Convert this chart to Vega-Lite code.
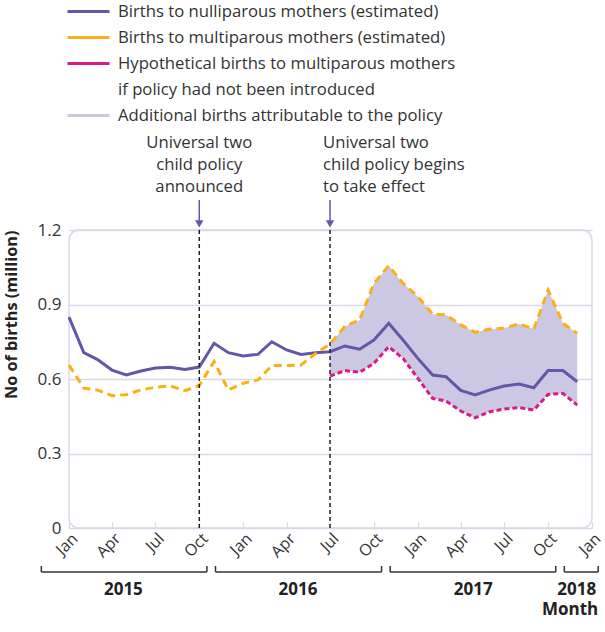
{
  "$schema": "https://vega.github.io/schema/vega-lite/v6.json",
  "width": 523,
  "height": 298,
  "padding": {"left": 3, "top": 0, "right": 0, "bottom": 5},
  "config": {
    "font": "Open Sans",
    "view": {"stroke": "#d9d8e8", "strokeWidth": 1.5, "cornerRadius": 10},
    "axis": {"labelColor": "#333333", "titleColor": "#222222"}
  },
  "datasets": {
    "main": [
      {"date": "2015-01-01", "nulli": 0.849, "multi": 0.656, "hypo": null},
      {"date": "2015-02-01", "nulli": 0.706, "multi": 0.563, "hypo": null},
      {"date": "2015-03-01", "nulli": 0.679, "multi": 0.556, "hypo": null},
      {"date": "2015-04-01", "nulli": 0.636, "multi": 0.533, "hypo": null},
      {"date": "2015-05-01", "nulli": 0.616, "multi": 0.537, "hypo": null},
      {"date": "2015-06-01", "nulli": 0.632, "multi": 0.556, "hypo": null},
      {"date": "2015-07-01", "nulli": 0.644, "multi": 0.567, "hypo": null},
      {"date": "2015-08-01", "nulli": 0.647, "multi": 0.572, "hypo": null},
      {"date": "2015-09-01", "nulli": 0.638, "multi": 0.553, "hypo": null},
      {"date": "2015-10-01", "nulli": 0.648, "multi": 0.574, "hypo": null},
      {"date": "2015-11-01", "nulli": 0.744, "multi": 0.670, "hypo": null},
      {"date": "2015-12-01", "nulli": 0.706, "multi": 0.556, "hypo": null},
      {"date": "2016-01-01", "nulli": 0.693, "multi": 0.583, "hypo": null},
      {"date": "2016-02-01", "nulli": 0.699, "multi": 0.596, "hypo": null},
      {"date": "2016-03-01", "nulli": 0.750, "multi": 0.654, "hypo": null},
      {"date": "2016-04-01", "nulli": 0.717, "multi": 0.654, "hypo": null},
      {"date": "2016-05-01", "nulli": 0.699, "multi": 0.656, "hypo": null},
      {"date": "2016-06-01", "nulli": 0.706, "multi": 0.703, "hypo": null},
      {"date": "2016-07-01", "nulli": 0.710, "multi": 0.741, "hypo": 0.612},
      {"date": "2016-08-01", "nulli": 0.733, "multi": 0.811, "hypo": 0.634},
      {"date": "2016-09-01", "nulli": 0.720, "multi": 0.838, "hypo": 0.627},
      {"date": "2016-10-01", "nulli": 0.757, "multi": 0.985, "hypo": 0.663},
      {"date": "2016-11-01", "nulli": 0.824, "multi": 1.056, "hypo": 0.730},
      {"date": "2016-12-01", "nulli": 0.757, "multi": 0.985, "hypo": 0.683},
      {"date": "2017-01-01", "nulli": 0.683, "multi": 0.932, "hypo": 0.603},
      {"date": "2017-02-01", "nulli": 0.616, "multi": 0.861, "hypo": 0.522},
      {"date": "2017-03-01", "nulli": 0.609, "multi": 0.858, "hypo": 0.511},
      {"date": "2017-04-01", "nulli": 0.554, "multi": 0.818, "hypo": 0.471},
      {"date": "2017-05-01", "nulli": 0.536, "multi": 0.788, "hypo": 0.444},
      {"date": "2017-06-01", "nulli": 0.556, "multi": 0.801, "hypo": 0.468},
      {"date": "2017-07-01", "nulli": 0.572, "multi": 0.804, "hypo": 0.479},
      {"date": "2017-08-01", "nulli": 0.580, "multi": 0.822, "hypo": 0.485},
      {"date": "2017-09-01", "nulli": 0.565, "multi": 0.801, "hypo": 0.475},
      {"date": "2017-10-01", "nulli": 0.634, "multi": 0.958, "hypo": 0.538},
      {"date": "2017-11-01", "nulli": 0.634, "multi": 0.824, "hypo": 0.542},
      {"date": "2017-12-01", "nulli": 0.589, "multi": 0.784, "hypo": 0.495}
    ],
    "notes": [
      {"date": "2015-10-01", "text": "Universal two|child policy|announced", "kind": "announced"},
      {"date": "2016-07-01", "text": "Universal two|child policy begins|to take effect", "kind": "effect"}
    ],
    "years": [
      {"year": "2015", "start": "2014-11-04", "end": "2015-10-17", "mid": "2015-04-25"},
      {"year": "2016", "start": "2015-11-04", "end": "2016-10-17", "mid": "2016-04-25"},
      {"year": "2017", "start": "2016-11-04", "end": "2017-10-17", "mid": "2017-04-27"},
      {"year": "2018", "start": "2017-11-04", "end": "2018-01-14", "mid": "2017-11-30"}
    ],
    "month": [{"date": "2018-01-14", "text": "Month"}]
  },
  "layer": [
    {
      "data": {"name": "main"},
      "transform": [{"filter": "datum.hypo != null"}],
      "mark": {"type": "area", "opacity": 1},
      "encoding": {
        "x": {
          "field": "date", "type": "temporal",
          "scale": {"type": "utc", "domain": ["2015-01-01", "2018-01-01"]},
          "axis": {
            "title": null, "format": "%b", "formatType": "time",
            "tickCount": {"interval": "month", "step": 3},
            "labelAngle": -45, "labelFontSize": 16, "labelPadding": 8,
            "domain": false, "grid": false,
            "ticks": true, "tickSize": -6, "tickColor": "#d9d8e8", "tickWidth": 1.3
          }
        },
        "y": {
          "field": "hypo", "type": "quantitative",
          "scale": {"domain": [0, 1.2], "nice": false},
          "axis": {
            "title": "No of births (million)", "titleFontSize": 16.3, "titleFontWeight": "bold",
            "titlePadding": 18, "titleAnchor": "end",
            "values": [0, 0.3, 0.6, 0.9, 1.2],
            "labelExpr": "datum.value == 0 ? '0' : format(datum.value, '.1f')",
            "labelFontSize": 17, "labelPadding": 8,
            "domain": false, "ticks": false,
            "grid": true, "gridColor": "#d9d8e8", "gridWidth": 1.3
          }
        },
        "y2": {"field": "multi"},
        "color": {
          "datum": "Additional births attributable to the policy",
          "type": "nominal",
          "scale": {
            "domain": [
              "Births to nulliparous mothers (estimated)",
              "Births to multiparous mothers (estimated)",
              "Hypothetical births to multiparous mothers",
              "if policy had not been introduced",
              "Additional births attributable to the policy"
            ],
            "range": ["#6656a8", "#fbb017", "#d91b84", "transparent", "#ccc8e3"]
          },
          "legend": {
            "orient": "none", "legendX": -3, "legendY": -230,
            "title": null, "direction": "vertical",
            "symbolType": "M-1,0H3.2", "symbolSize": 400, "symbolStrokeWidth": 3,
            "labelFontSize": 16.7, "labelColor": "#333333", "labelLimit": 600,
            "labelOffset": 29, "rowPadding": 5,
            "encode": {
              "symbols": {
                "update": {
                  "stroke": {"scale": "color", "field": "value"},
                  "fill": {"value": "transparent"},
                  "opacity": {"value": 1},
                  "strokeDash": {"signal": "datum.value == 'Births to multiparous mothers (estimated)' ? [8,5] : (datum.value == 'Hypothetical births to multiparous mothers' ? [5,3] : [])"},
                  "strokeWidth": {"signal": "datum.value == 'Additional births attributable to the policy' ? 14 : (datum.value == 'if policy had not been introduced' ? 0 : 3)"}
                }
              }
            }
          }
        }
      }
    },
    {
      "data": {"name": "main"},
      "mark": {"type": "line", "strokeWidth": 3},
      "encoding": {
        "x": {"field": "date", "type": "temporal"},
        "y": {"field": "nulli", "type": "quantitative"},
        "color": {"datum": "Births to nulliparous mothers (estimated)", "type": "nominal"}
      }
    },
    {
      "data": {"name": "main"},
      "mark": {"type": "line", "strokeWidth": 3, "strokeDash": [8, 5]},
      "encoding": {
        "x": {"field": "date", "type": "temporal"},
        "y": {"field": "multi", "type": "quantitative"},
        "color": {"datum": "Births to multiparous mothers (estimated)", "type": "nominal"}
      }
    },
    {
      "data": {"name": "main"},
      "transform": [{"filter": "datum.hypo != null"}],
      "mark": {"type": "line", "strokeWidth": 3, "strokeDash": [5, 3]},
      "encoding": {
        "x": {"field": "date", "type": "temporal"},
        "y": {"field": "hypo", "type": "quantitative"},
        "color": {"datum": "Hypothetical births to multiparous mothers", "type": "nominal"}
      }
    },
    {
      "data": {"name": "notes"},
      "mark": {"type": "rule", "color": "#222222", "strokeWidth": 1.5, "strokeDash": [4, 3]},
      "encoding": {
        "x": {"field": "date", "type": "temporal"},
        "y": {"datum": 0, "type": "quantitative"},
        "y2": {"datum": 1.2}
      }
    },
    {
      "data": {"name": "notes"},
      "mark": {"type": "rule", "color": "#6656a8", "strokeWidth": 1.5, "clip": false},
      "encoding": {
        "x": {"field": "date", "type": "temporal"},
        "y": {"datum": 1.321, "type": "quantitative"},
        "y2": {"datum": 1.235}
      }
    },
    {
      "data": {"name": "notes"},
      "mark": {"type": "point", "shape": "triangle-down", "filled": true, "color": "#6656a8", "size": 70, "opacity": 1, "clip": false},
      "encoding": {
        "x": {"field": "date", "type": "temporal"},
        "y": {"datum": 1.225, "type": "quantitative"}
      }
    },
    {
      "data": {"name": "notes"},
      "transform": [{"filter": "datum.kind == 'announced'"}],
      "mark": {"type": "text", "align": "center", "baseline": "middle", "lineBreak": "|", "lineHeight": 22, "fontSize": 16.7, "color": "#333333", "clip": false},
      "encoding": {
        "x": {"field": "date", "type": "temporal"},
        "y": {"datum": 1.551, "type": "quantitative"},
        "text": {"field": "text"}
      }
    },
    {
      "data": {"name": "notes"},
      "transform": [{"filter": "datum.kind == 'effect'"}],
      "mark": {"type": "text", "align": "left", "dx": -7, "baseline": "middle", "lineBreak": "|", "lineHeight": 22, "fontSize": 16.7, "color": "#333333", "clip": false},
      "encoding": {
        "x": {"field": "date", "type": "temporal"},
        "y": {"datum": 1.551, "type": "quantitative"},
        "text": {"field": "text"}
      }
    },
    {
      "data": {"name": "years"},
      "mark": {"type": "rule", "color": "#333333", "strokeWidth": 1.5, "clip": false},
      "encoding": {
        "x": {"field": "start", "type": "temporal"},
        "x2": {"field": "end"},
        "y": {"datum": -0.177, "type": "quantitative"}
      }
    },
    {
      "data": {"name": "years"},
      "mark": {"type": "rule", "color": "#333333", "strokeWidth": 1.5, "clip": false},
      "encoding": {
        "x": {"field": "start", "type": "temporal"},
        "y": {"datum": -0.177, "type": "quantitative"},
        "y2": {"datum": -0.153}
      }
    },
    {
      "data": {"name": "years"},
      "mark": {"type": "rule", "color": "#333333", "strokeWidth": 1.5, "clip": false},
      "encoding": {
        "x": {"field": "end", "type": "temporal"},
        "y": {"datum": -0.177, "type": "quantitative"},
        "y2": {"datum": -0.153}
      }
    },
    {
      "data": {"name": "years"},
      "mark": {"type": "text", "align": "center", "baseline": "middle", "fontSize": 17, "fontWeight": "bold", "color": "#222222", "clip": false},
      "encoding": {
        "x": {"field": "mid", "type": "temporal"},
        "y": {"datum": -0.25, "type": "quantitative"},
        "text": {"field": "year"}
      }
    },
    {
      "data": {"name": "month"},
      "mark": {"type": "text", "align": "right", "baseline": "middle", "fontSize": 17, "fontWeight": "bold", "color": "#222222", "clip": false},
      "encoding": {
        "x": {"field": "date", "type": "temporal"},
        "y": {"datum": -0.33, "type": "quantitative"},
        "text": {"field": "text"}
      }
    }
  ]
}
